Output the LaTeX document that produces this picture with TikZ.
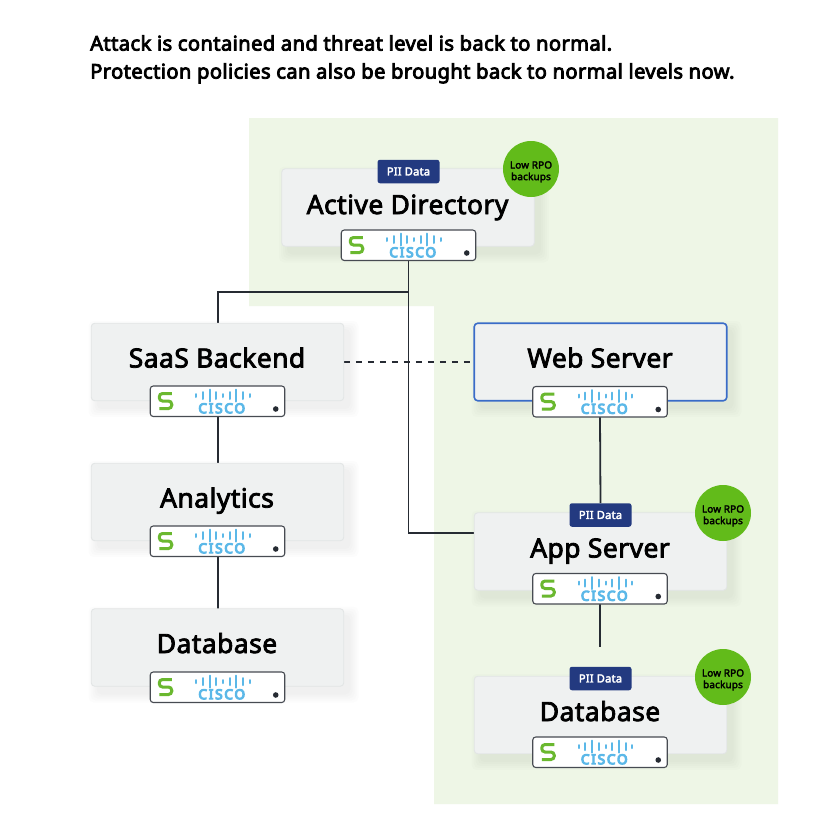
\documentclass[tikz,border=0pt]{standalone}
\usepackage{fontspec}
\setmainfont{Noto Sans}
\newfontfamily\semi[FakeBold=3,LetterSpace=1.8]{Noto Sans}
\newfontfamily\headf[FakeBold=4,LetterSpace=1.8]{Noto Sans}
\newfontfamily\ciscofont[FakeBold=8,LetterSpace=13]{Noto Sans}
\usetikzlibrary{calc}
\pgfdeclarelayer{bgl}
\pgfdeclarelayer{shl}
\pgfsetlayers{bgl,shl,main}
\definecolor{bggreen}{HTML}{EEF6E6}
\definecolor{boxfill}{HTML}{EFF1F1}
\definecolor{boxline}{HTML}{E2E5E5}
\definecolor{webblue}{HTML}{3A6CC8}
\definecolor{badgeblue}{HTML}{233A80}
\definecolor{rpogreen}{HTML}{62BB1A}
\definecolor{linedark}{HTML}{262B33}
\definecolor{ciscoblue}{HTML}{5BB8E8}
\definecolor{logogreen}{HTML}{6AB82F}
\newcommand{\rpotext}{\rule{0pt}{13pt}Low RPO\\backups}
\tikzset{
  x=1pt,y=-1pt,
  sysbox/.style={draw=boxline,fill=boxfill,line width=0.9pt,rounded corners=3.5pt,minimum width=252.5pt,minimum height=77.5pt,inner sep=0pt,outer sep=0pt},
  webbox/.style={sysbox,draw=webblue,line width=1.6pt},
  titletext/.style={font=\semi\fontsize{26.4}{30}\selectfont,text=black,anchor=base,inner sep=0pt},
  devbox/.style={draw=linedark!85,fill=white,line width=1.1pt,rounded corners=3pt,minimum width=134.5pt,minimum height=30.5pt,inner sep=0pt,outer sep=0pt},
  piibadge/.style={fill=badgeblue,rounded corners=2.5pt,minimum width=62pt,minimum height=23.5pt,inner sep=0pt,text=white,font=\semi\fontsize{11.2}{12}\selectfont},
  rpobadge/.style={circle,fill=rpogreen,minimum size=56pt,inner sep=0pt,align=center,text=black,font=\semi\fontsize{9.9}{11.6}\selectfont},
  link/.style={draw=linedark,line width=1.8pt},
  dashlink/.style={draw=linedark,line width=1.4pt,dash pattern=on 6pt off 6pt},
  headtext/.style={font=\headf\fontsize{20.2}{28}\selectfont,text=black,align=left,anchor=north west,inner sep=0pt},
  ciscotext/.style={font=\ciscofont\fontsize{13.6}{14}\selectfont,text=ciscoblue,inner sep=0pt},
  ciscobar/.style={draw=ciscoblue,line width=2pt,line cap=round},
  logostroke/.style={draw=logogreen,line width=3pt,rounded corners=3.3pt},
}
% name, centre x, centre y, title, title baseline offset, box style
\newcommand{\sysnode}[6]{%
  \begin{pgfonlayer}{shl}
    \foreach \g in {9,7,5,3,1}{
      \fill[black,opacity=0.012,rounded corners=5pt]
        ($(#2,#3)+(-126+6-\g,-39+7-\g)$) rectangle ($(#2,#3)+(126+6+\g,39+7+\g)$);
    }
  \end{pgfonlayer}
  \node[#6] (#1) at (#2,#3) {};
  \node[titletext] (#1t) at (#2-0.5,#3+#5-0.5) {#4};
}
% name, centre x, top y
\newcommand{\devnode}[3]{%
  \node[devbox] (#1) at (#2,#3+15.25) {};
  \begin{scope}[shift={(#2-67.25,#3)}]
    \draw[logostroke] (21.5,7.5) -- (9,7.5) -- (9,15) -- (21.5,15) -- (21.5,22.5) -- (9,22.5);
    \foreach \bx/\bh in {0/1.5,1/3.5,2/6,3/3.5,4/1.5,5/3.5,6/6,7/3.5,8/1.5}{
      \draw[ciscobar] ({46+\bx*6.7},{9.5-\bh}) -- ({46+\bx*6.7},{9.5+\bh});
    }
    \node[ciscotext] (#1c) at (71.5,22.3) {CISCO};
    \fill[linedark] (125.5,23) circle (2.8);
  \end{scope}
}
\begin{document}
\begin{tikzpicture}
\useasboundingbox (0,0) rectangle (817,822);
\begin{pgfonlayer}{bgl}
  \fill[white] (0,0) rectangle (817,822);
  \fill[bggreen] (249,118) -- (778,118) -- (778,804) -- (434,804) -- (434,306) -- (249,306) -- cycle;
\end{pgfonlayer}
\node[headtext] (head) at (90,35) {Attack is contained and threat level is back to normal.\\Protection policies can also be brought back to normal levels now.};

\sysnode{ad}{408}{207.5}{Active Directory}{7}{sysbox}
\sysnode{saas}{217.5}{362}{SaaS Backend}{6}{sysbox}
\sysnode{ana}{217.5}{502}{Analytics}{6}{sysbox}
\sysnode{dba}{217.5}{647.5}{Database}{6}{sysbox}
\sysnode{web}{600.5}{362}{Web Server}{6}{webbox}
\sysnode{app}{600.5}{551.5}{App Server}{6.5}{sysbox}
\sysnode{dbb}{600.5}{715}{Database}{6.5}{sysbox}

\devnode{addev}{408.5}{230}
\devnode{saasdev}{217.5}{386}
\devnode{anadev}{217.5}{526}
\devnode{dbadev}{217.5}{672}
\devnode{webdev}{600}{386.5}
\devnode{appdev}{600}{573.5}
\devnode{dbbdev}{600}{737}

\node[piibadge] (piiad) at (408.5,171.5) {PII Data};
\node[piibadge] (piiapp) at (600.5,515) {PII Data};
\node[piibadge] (piidbb) at (600.5,678.5) {PII Data};
\node[rpobadge] (rpoad) at (531,169) {\rpotext};
\node[rpobadge] (rpoapp) at (723,513) {\rpotext};
\node[rpobadge] (rpodbb) at (723,677) {\rpotext};

\coordinate (junction) at (408.5,292);
\coordinate (appin) at (474,533);
\coordinate (append) at (600,647);

\begin{pgfonlayer}{shl}
  \draw[link] (addev.south) -- (junction);
  \draw[link] (junction) -| ([xshift=0.8pt]saasdev.north |- saas.north);
  \draw[link] (junction) |- (appin);
  \draw[dashlink] (saas.east) -- (web.west);
  \draw[link] ([xshift=0.8pt]saasdev.south) -- ([xshift=0.8pt]saasdev.south |- ana.north);
  \draw[link] ([xshift=0.8pt]anadev.south) -- ([xshift=0.8pt]anadev.south |- dba.north);
  \draw[link] (webdev.south) -- (piiapp.north);
  \draw[link] (appdev.south) -- (append);
\end{pgfonlayer}
\end{tikzpicture}
\end{document}
